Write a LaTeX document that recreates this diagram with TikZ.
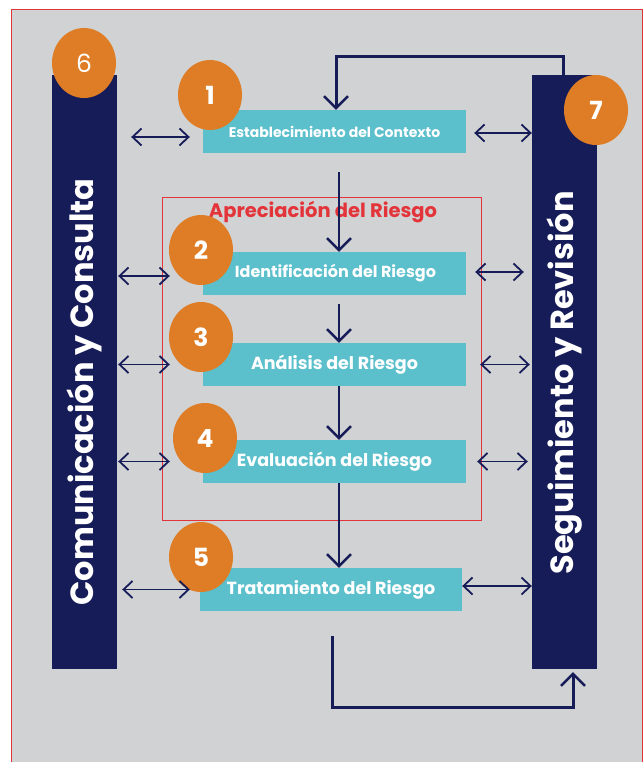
\documentclass[tikz,border=0pt]{standalone}
\usepackage{fontspec}
\setmainfont{Poppins}
\usetikzlibrary{arrows.meta,shapes.geometric}
\definecolor{bggray}{HTML}{D1D2D4}
\definecolor{navy}{HTML}{161C58}
\definecolor{teal}{HTML}{5BBFCC}
\definecolor{orng}{HTML}{DE7D26}
\definecolor{frred}{HTML}{E3343A}
\tikzset{
  stepbox/.style={fill=teal, minimum width=263pt, minimum height=43pt, inner sep=0pt, text=white, font=\bfseries\fontsize{17.5}{17.5}\selectfont},
  bar/.style={fill=navy, minimum width=65pt, minimum height=594pt, inner sep=0pt},
  bartext/.style={rotate=90, text=white, font=\bfseries\fontsize{32}{32}\selectfont},
  badge/.style={ellipse, fill=orng, minimum width=64pt, minimum height=70pt, inner sep=0pt, text=white, font=\bfseries\fontsize{25}{25}\selectfont},
  flow/.style={draw=navy, line width=2.6pt, -{Straight Barb[length=12pt,width=24pt,line width=2.4pt]}},
  loop/.style={draw=navy, line width=3pt, -{Straight Barb[length=12pt,width=24pt,line width=2.4pt]}},
  dbl/.style={draw=navy, line width=1.8pt, {Straight Barb[length=9pt,width=17pt]}-{Straight Barb[length=9pt,width=17pt]}}
}
\begin{document}
\begin{tikzpicture}[x=1pt,y=-1pt]
\useasboundingbox (0,0) rectangle (644,762);
\fill[white] (0,0) rectangle (644,762);
\draw[frred, line width=1pt, fill=bggray] (11.5,9.5) rectangle (642.5,775);
% Appreciation frame
\draw[frred, line width=1pt] (162,197) rectangle (481,520);
\node[text=frred, font=\bfseries\fontsize{19.5}{19.5}\selectfont] (apr) at (323,212) {Apreciación del Riesgo};
% bars
\node[bar] (lbar) at (84.5,372) {};
\node[bar] (rbar) at (564.5,372) {};
\node[bartext] (ltxt) at (84.5,392) {Comunicación y Consulta};
\node[bartext] (rtxt) at (564.5,383) {Seguimiento y Revisión};
% boxes
\node[stepbox, font=\bfseries\fontsize{14}{14}\selectfont] (b1) at (334.5,131.5) {Establecimiento del Contexto};
\node[stepbox, font=\bfseries\fontsize{16}{16}\selectfont] (b2) at (334.5,273.5) {\hspace*{2pt}Identificación del Riesgo};
\node[stepbox] (b3) at (334.5,364.5) {Análisis del Riesgo};
\node[stepbox] (b4) at (334.5,461.5) {Evaluación del Riesgo};
\node[stepbox, minimum width=262pt] (b5) at (331,589.5) {Tratamiento del Riesgo};
% badges
\node[badge, font=\fontsize{25}{25}\selectfont] (c6) at (84,63) {6};
\node[badge] (c7) at (596,110) {7};
\node[badge] (c1) at (210,95) {1};
\node[badge] (c2) at (201,250) {2};
\node[badge] (c3) at (201,337) {3};
\node[badge] (c4) at (205,438) {4};
\node[badge] (c5) at (201,557) {5};
% main flow
\draw[flow] ([xshift=4.5pt,yshift=-19pt]b1.south) -- ([xshift=4.5pt]b2.north);
\draw[flow] ([xshift=4.5pt,yshift=-9pt]b2.south) -- ([xshift=4.5pt]b3.north);
\draw[flow] ([xshift=4.5pt]b3.south) -- ([xshift=4.5pt]b4.north);
\draw[flow] ([xshift=4.5pt]b4.south) -- ([xshift=8pt]b5.north);
% loops
\coordinate (tl1) at (563,57);
\coordinate (tl2) at (336,57);
\draw[loop] ([xshift=-1.5pt]rbar.north) -- (tl1) -- (tl2) -- (tl2 |- b1.north);
\coordinate (bl0) at (332,636);
\coordinate (bl1) at (332,707);
\coordinate (bl2) at (573,707);
\draw[loop] (bl0) -- (bl1) -- (bl2) -- ([yshift=-3pt]bl2 |- rbar.south);
% double arrows
\draw[dbl] ([xshift=14pt,yshift=-5.5pt]lbar.east |- b1.west) -- ([xshift=-13pt,yshift=-5.5pt]b1.west);
\draw[dbl] ([xshift=8pt,yshift=-1.5pt]b1.east) -- ([yshift=-1.5pt]rbar.west |- b1.east);
\draw[dbl] ([xshift=1pt,yshift=-2.5pt]lbar.east |- b2.west) -- ([xshift=-33pt,yshift=-2.5pt]b2.west);
\draw[dbl] ([xshift=9pt,yshift=1.5pt]b2.east) -- ([xshift=-8pt,yshift=1.5pt]rbar.west |- b2.east);
\draw[dbl] ([xshift=1pt]lbar.east |- b3.west) -- ([xshift=-33pt]b3.west);
\draw[dbl] ([xshift=14pt]b3.east) -- ([xshift=-2pt]rbar.west |- b3.east);
\draw[dbl] ([xshift=1pt]lbar.east |- b4.west) -- ([xshift=-33pt]b4.west);
\draw[dbl] ([xshift=11pt]b4.east) -- ([xshift=-4pt]rbar.west |- b4.east);
\draw[dbl] ([xshift=5pt]lbar.east |- b5.west) -- ([xshift=-10pt]b5.west);
\draw[dbl] ([yshift=3.5pt]b5.east) -- ([yshift=3.5pt]rbar.west |- b5.east);
\end{tikzpicture}
\end{document}
